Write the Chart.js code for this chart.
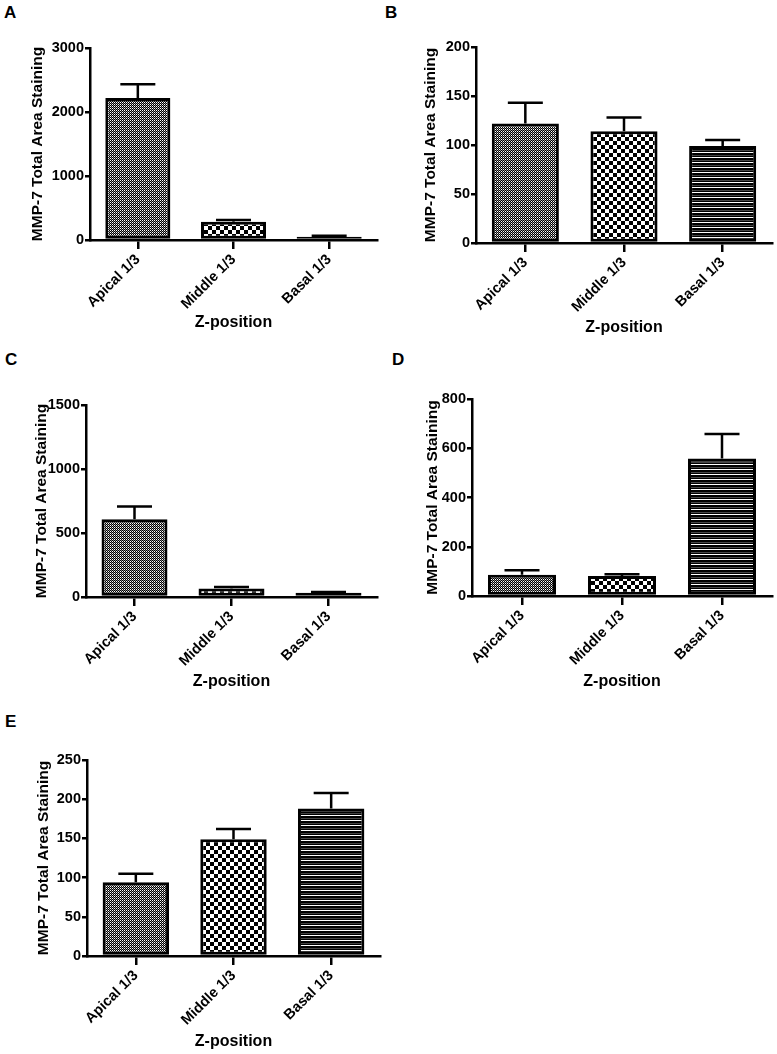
<!DOCTYPE html>
<html>
<head>
<meta charset="utf-8">
<script src="https://cdn.jsdelivr.net/npm/chart.js@4/dist/chart.umd.min.js"></script>
<style>
  body { margin: 0; background: #fff; width: 777px; height: 1054px; position: relative; overflow: hidden; }
  canvas { position: absolute; }
  .tag { position: absolute; font: bold 17px "Liberation Sans", Arial, sans-serif; color: #000; }
</style>
</head>
<body>
<div class="tag" style="left:4px;top:3px">A</div>
<div class="tag" style="left:385px;top:3px">B</div>
<div class="tag" style="left:5px;top:350px">C</div>
<div class="tag" style="left:392px;top:350px">D</div>
<div class="tag" style="left:5px;top:712px">E</div>
<canvas id="chartA"></canvas>
<canvas id="chartB"></canvas>
<canvas id="chartC"></canvas>
<canvas id="chartD"></canvas>
<canvas id="chartE"></canvas>
<script>
// shared categories
const categories = ['Apical 1/3', 'Middle 1/3', 'Basal 1/3'];

// panel A
const meanA = [2220, 285, 52];
const semA = [215, 28, 14];
const ticksA = [0, 1000, 2000, 3000];

// panel B
const meanB = [122, 114, 99];
const semB = [21, 14, 6];
const ticksB = [0, 50, 100, 150, 200];

// panel C
const meanC = [607, 66, 34];
const semC = [100, 12, 5];
const ticksC = [0, 500, 1000, 1500];

// panel D
const meanD = [86, 81, 558];
const semD = [19, 7, 100];
const ticksD = [0, 200, 400, 600, 800];

// panel E
const meanE = [94, 149, 188];
const semE = [11, 13, 20];
const ticksE = [0, 50, 100, 150, 200, 250];

const FONT = '"Liberation Sans", Arial, sans-serif';
Chart.defaults.font.family = FONT;
Chart.defaults.font.weight = 'bold';
Chart.defaults.color = '#000';

// fill patterns for the three bars
function makePattern(w, h, draw) {
  const c = document.createElement('canvas');
  c.width = w; c.height = h;
  const g = c.getContext('2d');
  draw(g);
  return g.createPattern(c, 'repeat');
}

const finePattern = makePattern(2, 2, g => {
  g.fillStyle = '#000'; g.fillRect(0, 0, 2, 2);
  g.fillStyle = '#fff'; g.fillRect(0, 0, 1, 1);
  g.fillStyle = '#888'; g.fillRect(1, 1, 1, 1);
});
const checkPattern = makePattern(8, 8, g => {
  g.fillStyle = '#000'; g.fillRect(0, 0, 8, 8);
  g.fillStyle = '#fff';
  g.fillRect(0, 0, 4, 4); g.fillRect(4, 4, 4, 4);
});
const stripePattern = makePattern(1, 5, g => {
  g.fillStyle = '#000'; g.fillRect(0, 0, 1, 5);
  g.fillStyle = '#fff'; g.fillRect(0, 0, 1, 1);
  g.fillStyle = '#444'; g.fillRect(0, 3, 1, 1);
});

// SEM bars drawn upward from each bar top
const errorBars = {
  id: 'errorBars',
  afterDatasetsDraw(chart) {
    const ctx = chart.ctx;
    const yScale = chart.scales.y;
    chart.data.datasets.forEach((ds, i) => {
      chart.getDatasetMeta(i).data.forEach((bar, j) => {
        const base = yScale.getPixelForValue(ds.data[j]);
        const top = yScale.getPixelForValue(ds.data[j] + ds.errors[j]);
        ctx.save();
        ctx.strokeStyle = '#000';
        ctx.lineWidth = 2.5;
        ctx.beginPath();
        ctx.moveTo(bar.x, base);
        ctx.lineTo(bar.x, top);
        ctx.moveTo(bar.x - 17.5, top);
        ctx.lineTo(bar.x + 17.5, top);
        ctx.stroke();
        ctx.restore();
      });
    });
  }
};

function drawPanel(id, box, means, sems, ticks) {
  const left = box.yTitleX - 9;
  const top = box.top - 30;
  const width = box.right + 4 - left;
  const height = box.xTitleY + 9 - top;
  const yWidth = box.axisX - left;
  const xHeight = box.xTitleY + 9 - box.bottom;

  const canvas = document.getElementById(id);
  canvas.style.left = left + 'px';
  canvas.style.top = top + 'px';
  canvas.width = width;
  canvas.height = height;

  new Chart(canvas, {
    type: 'bar',
    data: {
      labels: categories,
      datasets: [{
        data: means,
        errors: sems,
        backgroundColor: [finePattern, checkPattern, stripePattern],
        borderColor: '#000',
        borderWidth: 3,
        borderSkipped: false,
        categoryPercentage: 1,
        barPercentage: 0.68
      }]
    },
    options: {
      responsive: false,
      animation: false,
      devicePixelRatio: 1,
      layout: { padding: { top: 30, right: 4, left: 0, bottom: 0 } },
      plugins: { legend: { display: false }, tooltip: { enabled: false } },
      scales: {
        x: {
          grid: { offset: false, drawOnChartArea: false, tickLength: 9, color: '#000', lineWidth: 2.5 },
          border: { color: '#000', width: 2.5 },
          ticks: { minRotation: 45, maxRotation: 45, autoSkip: false, padding: 2, font: { size: 14.5, weight: 'bold' } },
          title: { display: true, text: 'Z-position', padding: 0, font: { size: 16, weight: 'bold' } },
          afterFit(scale) {
            scale.height = xHeight;
            scale.paddingLeft = 0;
            scale.paddingRight = 0;
          }
        },
        y: {
          min: 0,
          max: ticks[ticks.length - 1],
          grid: { drawOnChartArea: false, tickLength: 5, color: '#000', lineWidth: 2.5 },
          border: { color: '#000', width: 2.5 },
          ticks: {
            stepSize: ticks[1] - ticks[0],
            padding: 1,
            font: { size: 14.5, weight: 'bold' },
            callback: v => String(v)
          },
          title: { display: true, text: 'MMP-7 Total Area Staining', padding: 0, font: { size: 15.5, weight: 'bold' } },
          afterFit(scale) {
            scale.width = yWidth;
            scale.paddingTop = 0;
            scale.paddingBottom = 0;
          }
        }
      }
    },
    plugins: [errorBars]
  });
}

drawPanel('chartA', { axisX: 90, right: 377, top: 48, bottom: 240, yTitleX: 37, xTitleY: 323 }, meanA, semA, ticksA);
drawPanel('chartB', { axisX: 476, right: 772, top: 47, bottom: 243, yTitleX: 430, xTitleY: 328 }, meanB, semB, ticksB);
drawPanel('chartC', { axisX: 86, right: 377, top: 405, bottom: 597, yTitleX: 41, xTitleY: 682 }, meanC, semC, ticksC);
drawPanel('chartD', { axisX: 472, right: 772, top: 399, bottom: 596, yTitleX: 432, xTitleY: 682 }, meanD, semD, ticksD);
drawPanel('chartE', { axisX: 87, right: 380, top: 760, bottom: 956, yTitleX: 43, xTitleY: 1042 }, meanE, semE, ticksE);
</script>
</body>
</html>
